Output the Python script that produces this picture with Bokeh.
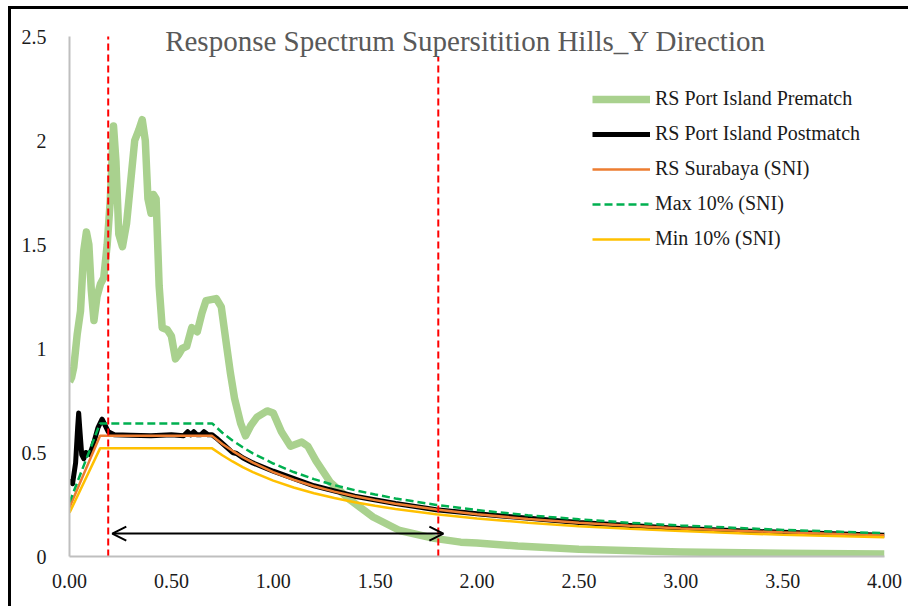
from bokeh.plotting import figure
from bokeh.models import Range1d, FixedTicker, Label, Arrow, OpenHead
from bokeh.embed import file_html
from bokeh.resources import INLINE

# ---------------- data ----------------
title_text = "Response Spectrum Supersitition Hills_Y Direction"

x_ticks = [0, 0.5, 1, 1.5, 2, 2.5, 3, 3.5, 4]
x_tick_labels = ["0.00", "0.50", "1.00", "1.50", "2.00", "2.50", "3.00", "3.50", "4.00"]
y_ticks = [0, 0.5, 1, 1.5, 2, 2.5]
y_tick_labels = ["0", "0.5", "1", "1.5", "2", "2.5"]

# RS Port Island Prematch
pre_T = [0, 0.01, 0.021, 0.038, 0.054, 0.07, 0.083, 0.095, 0.107, 0.12,
         0.135, 0.152, 0.168, 0.185, 0.20, 0.216, 0.228, 0.242, 0.26, 0.28,
         0.30, 0.32, 0.34, 0.357, 0.372, 0.385, 0.40, 0.412, 0.425, 0.44,
         0.455, 0.48, 0.50, 0.52, 0.535, 0.553, 0.575, 0.60, 0.627, 0.65,
         0.67, 0.72, 0.745, 0.77, 0.79, 0.81, 0.84, 0.864, 0.89, 0.92,
         0.97, 1.0, 1.04, 1.085, 1.14, 1.17, 1.21, 1.28, 1.38, 1.49,
         1.62, 1.79, 1.92, 2.0, 2.2, 2.5, 3.0, 3.5, 4.0]
pre_Sa = [0.84, 0.86, 0.91, 1.07, 1.18, 1.47, 1.56, 1.50, 1.28, 1.135,
          1.25, 1.31, 1.34, 1.50, 1.71, 2.07, 1.90, 1.55, 1.49, 1.60,
          1.80, 2.00, 2.05, 2.10, 2.00, 1.72, 1.65, 1.74, 1.72, 1.30,
          1.10, 1.09, 1.06, 0.95, 0.97, 1.00, 1.01, 1.10, 1.08, 1.17,
          1.23, 1.24, 1.20, 1.02, 0.88, 0.76, 0.64, 0.58, 0.63, 0.67,
          0.70, 0.69, 0.60, 0.53, 0.55, 0.53, 0.46, 0.357, 0.27, 0.19,
          0.125, 0.087, 0.069, 0.065, 0.05, 0.035, 0.022, 0.016, 0.012]

# RS Port Island Postmatch
post_T = [0, 0.015, 0.03, 0.04, 0.045, 0.05, 0.06, 0.07, 0.08, 0.10,
          0.12, 0.14, 0.16, 0.175, 0.19, 0.22, 0.30, 0.40, 0.50, 0.56,
          0.58, 0.595, 0.61, 0.625, 0.645, 0.66, 0.68, 0.70, 0.72, 0.76,
          0.80, 0.82, 0.85, 0.90, 1.0, 1.2, 1.4, 1.6, 1.8, 2.0,
          2.5, 3.0, 3.5, 4.0]
post_Sa = [0.37, 0.35, 0.45, 0.62, 0.69, 0.62, 0.49, 0.47, 0.50, 0.49,
           0.55, 0.62, 0.66, 0.63, 0.60, 0.585, 0.583, 0.58, 0.585, 0.58,
           0.60, 0.585, 0.60, 0.585, 0.585, 0.60, 0.585, 0.585, 0.57, 0.535,
           0.50, 0.495, 0.475, 0.45, 0.41, 0.34, 0.29, 0.255, 0.225, 0.205,
           0.163, 0.135, 0.116, 0.102]

# SNI design spectra
sni_T = [0, 0.15, 0.70, 0.75, 0.80, 0.85, 0.90, 1.0, 1.1, 1.2, 1.3,
         1.4, 1.5, 1.6, 1.8, 2.0, 2.25, 2.5, 2.75, 3.0, 3.5, 4.0]
sni_Sa = [0.235, 0.58, 0.58, 0.541, 0.508, 0.478, 0.451, 0.406, 0.369, 0.338, 0.312,
          0.290, 0.271, 0.254, 0.226, 0.203, 0.180, 0.162, 0.148, 0.135, 0.116, 0.102]
max_Sa = [0.26, 0.64, 0.64, 0.595, 0.558, 0.525, 0.496, 0.447, 0.406, 0.372, 0.343,
          0.319, 0.298, 0.279, 0.248, 0.223, 0.198, 0.179, 0.162, 0.149, 0.128, 0.112]
min_Sa = [0.21, 0.52, 0.52, 0.487, 0.457, 0.430, 0.406, 0.365, 0.332, 0.304, 0.281,
          0.261, 0.244, 0.228, 0.203, 0.183, 0.162, 0.146, 0.133, 0.122, 0.104, 0.092]

# period-range markers
range_lines = [0.19, 1.81]
arrow_from, arrow_to, arrow_level = 0.21, 1.835, 0.11

# ---------------- figure ----------------
FONT = "Liberation Serif"
Y_TOP = 2.625  # frame extends a little above the last tick so the title is not clipped
p = figure(width=900, height=600, output_backend="svg", toolbar_location=None,
           x_range=Range1d(0, 4), y_range=Range1d(0, Y_TOP),
           min_border_left=58, min_border_top=1, min_border_right=27, min_border_bottom=53)
p.styles = {"border-left": "3px solid black", "border-top": "3px solid black",
            "margin-left": "8px", "margin-top": "6px"}
p.grid.visible = False
p.outline_line_color = None
p.background_fill_color = "white"

for ax, ticks, labels in ((p.xaxis, x_ticks, x_tick_labels), (p.yaxis, y_ticks, y_tick_labels)):
    ax.ticker = FixedTicker(ticks=ticks)
    ax.major_label_overrides = {t: l for t, l in zip(ticks, labels)}
    ax.axis_line_color = "#BFBFBF"
    ax.axis_line_width = 2
    ax.major_tick_line_color = None
    ax.minor_tick_line_color = None
    ax.major_label_text_font = FONT
    ax.major_label_text_font_size = "20px"
    ax.major_label_text_color = "#1a1a1a"
p.yaxis.bounds = (y_ticks[0], y_ticks[-1])
p.xaxis.major_label_standoff = 11
p.yaxis.major_label_standoff = 17

p.line(pre_T, pre_Sa, line_color="#A9D18E", line_width=7.5, line_join="round",
       legend_label="RS Port Island Prematch")
p.line(post_T, post_Sa, line_color="black", line_width=5, line_join="round",
       legend_label="RS Port Island Postmatch")
p.line(sni_T, sni_Sa, line_color="#ED7D31", line_width=2.5,
       legend_label="RS Surabaya (SNI)")
p.line(sni_T, max_Sa, line_color="#00B050", line_width=2.5, line_dash="8 4",
       legend_label="Max 10% (SNI)")
p.line(sni_T, min_Sa, line_color="#FFC000", line_width=2.5,
       legend_label="Min 10% (SNI)")

# vertical red dashed period markers, from 0 up to the top tick
p.segment(x0=range_lines, y0=[y_ticks[0]] * len(range_lines),
          x1=range_lines, y1=[y_ticks[-1]] * len(range_lines),
          line_color="#FF0000", line_width=2, line_dash="7 4")

p.add_layout(Arrow(x_start=arrow_from, y_start=arrow_level, x_end=arrow_to, y_end=arrow_level,
                   line_width=2, line_color="black",
                   start=OpenHead(size=14, line_width=2, line_color="black"),
                   end=OpenHead(size=14, line_width=2, line_color="black")))

p.add_layout(Label(x=1.944, y=2.478, text=title_text, text_align="center", text_baseline="middle",
                   text_font=FONT, text_font_size="29px", text_color="#595959",
                   background_fill_color="white", background_fill_alpha=1.0))

lg = p.legend[0]
lg.location = (523, 306)
lg.border_line_color = None
lg.background_fill_alpha = 0
lg.label_text_font = FONT
lg.label_text_font_size = "20px"
lg.label_text_color = "#1a1a1a"
lg.glyph_width = 58
lg.glyph_height = 20
lg.label_height = 23
lg.spacing = 12
lg.label_standoff = 5
lg.padding = 0
lg.margin = 0

open("out.html", "w").write(file_html(p, INLINE))
